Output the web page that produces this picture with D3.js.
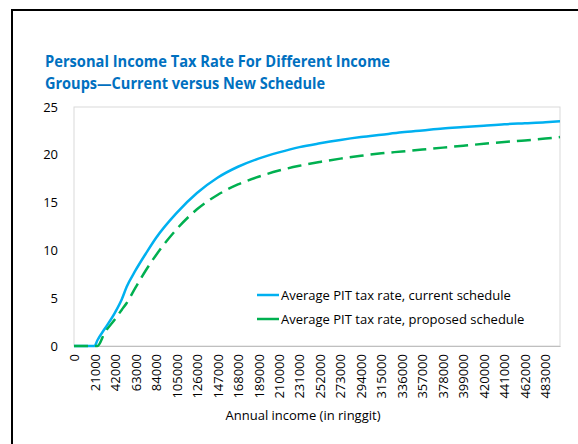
<!DOCTYPE html>
<html>
<head>
<meta charset="utf-8">
<script src="https://cdn.jsdelivr.net/npm/d3@7"></script>
<style>
  body { margin: 0; background: #fff; }
  svg { display: block; }
</style>
</head>
<body>
<svg id="chart"></svg>
<script>
let width = 578;
let height = 444;

let income = [0, 21000, 24000, 31500, 42000, 49000, 54000, 63000, 73500, 84000, 105000, 126000,
    147000, 168000, 189000, 210000, 231000, 252000, 273000, 294000, 315000, 336000,
    357000, 378000, 399000, 420000, 441000, 462000, 483000, 498000];
// average PIT rate (%), current schedule
let currentRate = [0, 0, 0.6, 1.8, 3.5, 4.9, 6.2, 7.9, 9.65, 11.3, 13.9, 16.0,
    17.6, 18.75, 19.6, 20.25, 20.8, 21.2, 21.55, 21.85, 22.1, 22.35,
    22.55, 22.75, 22.9, 23.05, 23.2, 23.3, 23.4, 23.5];
// average PIT rate (%), proposed schedule
let proposedRate = [0, 0, 0, 1.4, 2.8, 3.8, 4.5, 6.1, 7.9, 9.5, 12.2, 14.3,
    15.8, 16.9, 17.7, 18.35, 18.85, 19.25, 19.6, 19.9, 20.15, 20.35,
    20.55, 20.75, 20.95, 21.15, 21.35, 21.5, 21.7, 21.85];

let xTicks = d3.range(0, 483001, 21000);
let yTicks = [0, 5, 10, 15, 20, 25];

let titleLines = ["Personal Income Tax Rate For Different Income",
    "Groups\u2014Current versus New Schedule"];
let titleWidths = [345, 280];
let seriesNames = ["Average PIT tax rate, current schedule",
    "Average PIT tax rate, proposed schedule"];

let fontFamily = "'Open Sans', 'Noto Sans', sans-serif";

let margin = ({top: 107, right: 18, bottom: 98, left: 74});

let svg = d3.select('#chart')
    .attr('width', width)
    .attr('height', height)
    .style('font-family', fontFamily);

// outer black frame (runs off the right/bottom of the picture)
svg.append('rect')
    .attr('x', 12).attr('y', 10)
    .attr('width', 700).attr('height', 600)
    .attr('fill', 'none')
    .attr('stroke', '#000')
    .attr('stroke-width', 2);

let x = d3.scaleLinear()
    .domain([0, 498000])
    .range([margin.left, width - margin.right]);

let y = d3.scaleLinear()
    .domain([0, 25])
    .range([height - margin.bottom, margin.top]);

// title
svg.append('g')
    .selectAll('text')
    .data(titleLines)
    .join('text')
    .attr('x', 45)
    .attr('y', (d, i) => 67 + i * 22)
    .attr('fill', '#0070C0')
    .attr('font-weight', 'bold')
    .attr('font-size', 16.5)
    .attr('textLength', (d, i) => titleWidths[i])
    .attr('lengthAdjust', 'spacingAndGlyphs')
    .text(d => d);

// plot area border
svg.append('rect')
    .attr('x', x(0)).attr('y', y(25))
    .attr('width', x(498000) - x(0))
    .attr('height', y(0) - y(25))
    .attr('fill', 'none')
    .attr('stroke', '#D9D9D9')
    .attr('stroke-width', 1);

// y axis
svg.append('g')
    .attr('transform', `translate(${margin.left},0)`)
    .call(d3.axisLeft(y).tickValues(yTicks).tickSize(0).tickPadding(16))
    .call(g => g.select('.domain').remove())
    .call(g => g.selectAll('text')
        .attr('font-family', fontFamily)
        .attr('font-size', 13)
        .attr('fill', '#000'));

// x axis
svg.append('g')
    .attr('transform', `translate(0,${height - margin.bottom})`)
    .call(d3.axisBottom(x).tickValues(xTicks).tickSize(0).tickFormat(d3.format('d')))
    .call(g => g.select('.domain').attr('stroke', '#BFBFBF'))
    .call(g => g.selectAll('text')
        .attr('font-family', fontFamily)
        .attr('font-size', 13)
        .attr('fill', '#000')
        .attr('text-anchor', 'end')
        .attr('dy', '0.35em')
        .attr('transform', 'translate(0,8) rotate(-90)')
        .attr('y', 0).attr('x', 0));

svg.append('text')
    .attr('x', 303)
    .attr('y', 420)
    .attr('text-anchor', 'middle')
    .attr('font-size', 13)
    .text('Annual income (in ringgit)');

// lines
let rows = income.map((d, i) => ({income: d, current: currentRate[i], proposed: proposedRate[i]}));

let lineCurrent = d3.line()
    .x(d => x(d.income))
    .y(d => y(d.current))
    .curve(d3.curveMonotoneX);

let lineProposed = d3.line()
    .x(d => x(d.income))
    .y(d => y(d.proposed))
    .curve(d3.curveMonotoneX);

svg.append('path')
    .datum(rows)
    .attr('fill', 'none')
    .attr('stroke', '#00B0F0')
    .attr('stroke-width', 2.5)
    .attr('d', lineCurrent);

svg.append('path')
    .datum(rows)
    .attr('fill', 'none')
    .attr('stroke', '#00B050')
    .attr('stroke-width', 2.5)
    .attr('stroke-dasharray', '14,7')
    .attr('d', lineProposed);

// legend
let legendColors = ['#00B0F0', '#00B050'];
let legend = svg.append('g')
    .selectAll('g')
    .data(seriesNames)
    .join('g')
    .attr('transform', (d, i) => `translate(257,${295 + i * 24})`);

legend.append('line')
    .attr('x1', 0).attr('x2', 22)
    .attr('stroke', (d, i) => legendColors[i])
    .attr('stroke-width', 2.5);

legend.append('text')
    .attr('x', 24)
    .attr('dy', '0.35em')
    .attr('font-size', 13)
    .text(d => d);
</script>
</body>
</html>
